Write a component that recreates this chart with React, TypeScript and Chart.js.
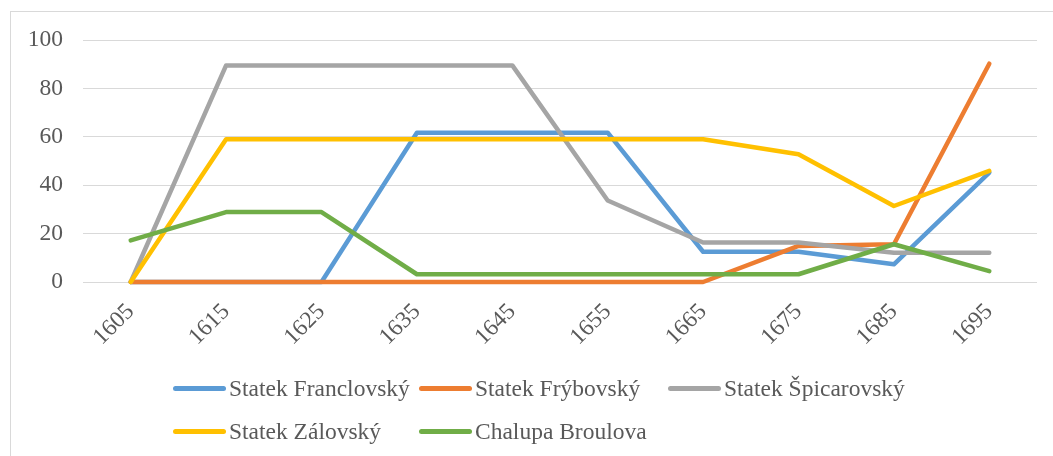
import React, { useEffect, useRef } from "react";
import { Chart, registerables } from "chart.js";

Chart.register(...registerables);

const years = ["1605", "1615", "1625", "1635", "1645", "1655", "1665", "1675", "1685", "1695"];
const franclovsky = [0, 0, 0, 61.7, 61.7, 61.7, 12.5, 12.5, 7.3, 45.2];
const frybovsky = [0, 0, 0, 0, 0, 0, 0, 14.9, 15.6, 90.2];
const spicarovsky = [0, 89.5, 89.5, 89.5, 89.5, 33.7, 16.3, 16.3, 12.1, 12.1];
const zalovsky = [0, 59, 59, 59, 59, 59, 59, 52.8, 31.4, 45.9];
const broulova = [17.2, 28.9, 28.9, 3.2, 3.2, 3.2, 3.2, 3.2, 15.6, 4.5];

const seriesNames = [
  "Statek Franclovský",
  "Statek Frýbovský",
  "Statek Špicarovský",
  "Statek Zálovský",
  "Chalupa Broulova",
];
const seriesColors = ["#5B9BD5", "#ED7D31", "#A5A5A5", "#FFC000", "#70AD47"];
const seriesValues = [franclovsky, frybovsky, spicarovsky, zalovsky, broulova];

const FONT = "'Liberation Serif', 'Times New Roman', serif";
const TEXT = "#595959";
const FSIZE = 23.5;

export default function App() {
  const ref = useRef<HTMLCanvasElement | null>(null);

  useEffect(() => {
    if (!ref.current) return;
    const chart = new Chart(ref.current, {
      type: "line",
      data: {
        labels: years,
        datasets: seriesValues.map((vals, i) => ({
          label: seriesNames[i],
          data: vals,
          borderColor: seriesColors[i],
          backgroundColor: seriesColors[i],
          borderWidth: 4.5,
          pointRadius: 0,
          tension: 0,
          borderCapStyle: "round" as const,
          borderJoinStyle: "round" as const,
          fill: false,
          clip: false as any,
          order: seriesValues.length - 1 - i,
        })),
      },
      options: {
        animation: false,
        responsive: false,
        devicePixelRatio: 1,
        layout: { padding: { top: 40, right: 16, left: 0, bottom: 0 } },
        plugins: {
          legend: { display: false },
          tooltip: { enabled: false },
        },
        scales: {
          x: {
            offset: true,
            grid: { display: false, drawTicks: false },
            border: { display: false },
            ticks: {
              minRotation: 45,
              maxRotation: 45,
              color: TEXT,
              padding: 16,
              font: { family: FONT, size: FSIZE },
            },
            afterFit: (scale: any) => {
              scale.height = 88;
            },
          },
          y: {
            min: 0,
            max: 100,
            grid: { color: "#d9d9d9", lineWidth: 1, drawTicks: false },
            border: { display: false },
            ticks: {
              stepSize: 20,
              color: TEXT,
              padding: 20,
              font: { family: FONT, size: FSIZE },
            },
            afterFit: (scale: any) => {
              scale.width = 83;
            },
          },
        },
      },
    });
    return () => chart.destroy();
  }, []);

  return (
    <div
      style={{
        position: "absolute",
        left: 0,
        top: 0,
        width: 1053,
        height: 456,
        overflow: "hidden",
        background: "#fff",
      }}
    >
      <div
        style={{
          position: "absolute",
          left: 10,
          top: 11,
          right: 0,
          bottom: 0,
          borderTop: "1.5px solid #d9d9d9",
          borderLeft: "1.5px solid #d9d9d9",
        }}
      />
      <canvas
        ref={ref}
        width={1053}
        height={370}
        style={{ position: "absolute", left: 0, top: 0, width: 1053, height: 370 }}
      />
      <div
        style={{
          position: "absolute",
          left: 173,
          top: 367,
          display: "grid",
          gridTemplateColumns: "246px 249px auto",
          rowGap: 0,
          fontFamily: FONT,
          fontSize: FSIZE,
          color: TEXT,
        }}
      >
        {seriesNames.map((name, i) => (
          <div
            key={name}
            style={{ display: "flex", alignItems: "center", height: 43, whiteSpace: "nowrap" }}
          >
            <span
              style={{
                display: "inline-block",
                width: 53,
                height: 5,
                borderRadius: 3,
                background: seriesColors[i],
                marginRight: 3,
                flexShrink: 0,
              }}
            />
            <span>{name}</span>
          </div>
        ))}
      </div>
    </div>
  );
}
